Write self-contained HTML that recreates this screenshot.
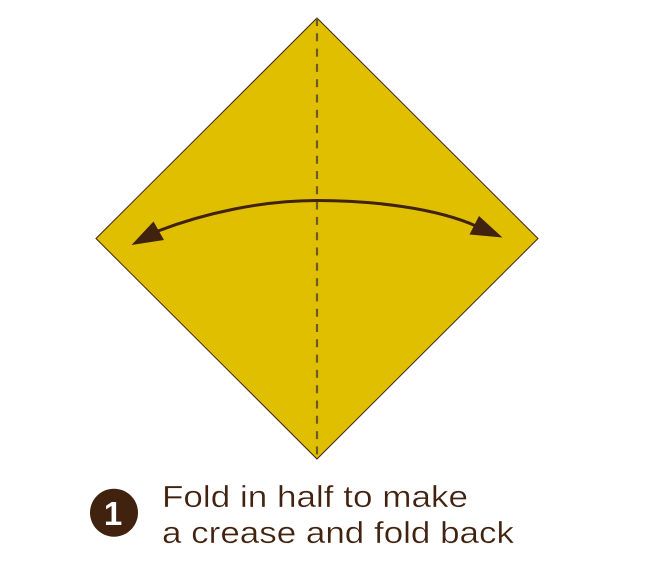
<!DOCTYPE html>
<html>
<head>
<meta charset="utf-8">
<style>
html,body{margin:0;padding:0;background:#fff;width:656px;height:564px;overflow:hidden}
svg{display:block}
text{font-family:"Liberation Sans",sans-serif}
</style>
</head>
<body>
<svg width="656" height="564" viewBox="0 0 656 564">
  <polygon points="317,18 538,238.5 317,459 96,238.5" fill="#e0bf00" stroke="#40220f" stroke-width="1"/>
  <line x1="317" y1="18" x2="317" y2="459" stroke="#6b5a2a" stroke-width="2.200" stroke-dasharray="8 7.3"/>
  <path d="M158,231 C205,213 262,200.500 317,200.500 C372,200.500 436,208 476,226" fill="none" stroke="#40220f" stroke-width="3"/>
  <polygon points="131.500,245 153.500,221.500 164,240" fill="#40220f"/>
  <polygon points="502.500,237.500 479,216 469.500,234.500" fill="#40220f"/>
  <circle cx="114" cy="512.700" r="24" fill="#40220f"/>
  <text x="113" y="525" font-size="33" font-weight="700" fill="#fff" text-anchor="middle">1</text>
  <text x="162" y="507" font-size="31" fill="#40220f" stroke="#fff" stroke-width="0.350" textLength="306" lengthAdjust="spacingAndGlyphs">Fold in half to make</text>
  <text x="162" y="543" font-size="31" fill="#40220f" stroke="#fff" stroke-width="0.350" textLength="352" lengthAdjust="spacingAndGlyphs">a crease and fold back</text>
</svg>
</body>
</html>
